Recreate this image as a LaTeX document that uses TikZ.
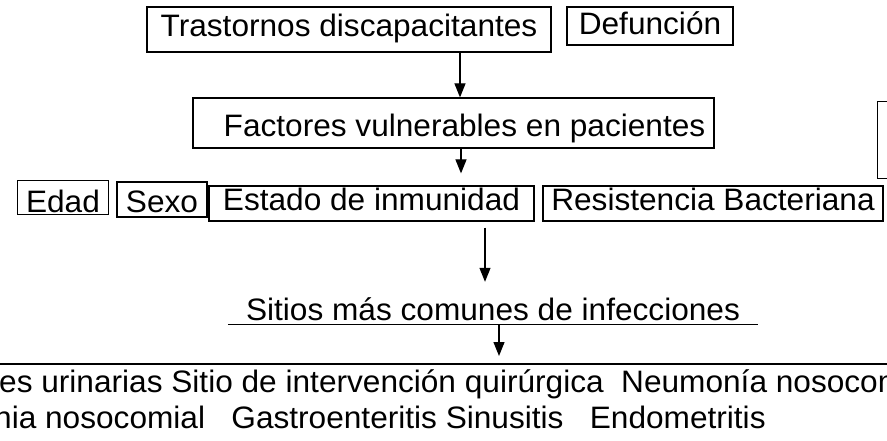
\documentclass[tikz,border=0pt]{standalone}
\usepackage{fontspec}
\setmainfont{Liberation Sans}[FakeStretch=1.02]
\usetikzlibrary{arrows.meta}
\tikzset{box/.style={draw, line width=1.2pt, inner sep=0pt, text depth=0pt, text height=#1}, box/.default=15pt}
\tikzset{arrow/.style={line width=1.2pt, -{Triangle[width=11pt,length=14pt]}}}
\tikzset{txt/.style={inner sep=0pt, anchor=base west}}

\begin{document}
\begin{tikzpicture}[x=1pt,y=-1pt,font=\fontsize{31}{36}\selectfont]
\useasboundingbox (0,0) rectangle (887,441);
\node[box, minimum width=404pt, minimum height=45pt] (tras) at (349,29.5) {Trastornos discapacitantes};
\node[box=18pt, minimum width=166pt, minimum height=38pt] (def) at (650,26) {Defunción};
\node[box=28pt, minimum width=521pt, minimum height=50pt] (fact) at (453.5,123) {\hspace{22pt}Factores vulnerables en pacientes};
\node[box, minimum width=40pt, minimum height=77pt, anchor=north west] (side) at (877,101) {};
\node[box=29pt, minimum width=91pt, minimum height=34pt] (edad) at (63,197.5) {Edad};
\node[box=26pt, minimum width=90pt, minimum height=35pt] (sexo) at (162,199.5) {Sexo};
\node[box, minimum width=325pt, minimum height=35pt] (est) at (371.5,203.5) {Estado de inmunidad};
\node[box, minimum width=340pt, minimum height=35pt] (res) at (713,203.5) {Resistencia Bacteriana};
\node[inner xsep=18pt, inner ysep=0pt, text height=22pt, text depth=4pt] (sit) at (493,311) {Sitios más comunes de infecciones};
\draw[line width=1.2pt] (sit.south west) -- (sit.south east);
\coordinate (ll) at (0,364);
\coordinate (lr) at (887,364);
\coordinate (lhit) at (499,364);
\draw[line width=1.5pt] (ll) -- (lr);
\node[txt] (inf1) at (-1,392) {es urinarias Sitio de intervención quirúrgica\ \ Neumonía nosocom};
\node[txt] (inf2) at (-6,428) {nia nosocomial\ \ \ Gastroenteritis Sinusitis\ \ \ Endometritis};
% flechas
\draw[arrow] ([xshift=111pt]tras.south) -- ([xshift=6.5pt]fact.north);
\draw[arrow, shorten >=12pt] ([xshift=7.5pt]fact.south) -- ([xshift=89.5pt]est.north);
\draw[arrow, shorten <=6pt, shorten >=16pt] ([xshift=113.5pt]est.south) -- ([xshift=-8pt]sit.north);
\draw[arrow, shorten >=8pt] ([xshift=6pt]sit.south) -- (lhit);
\end{tikzpicture}
\end{document}
